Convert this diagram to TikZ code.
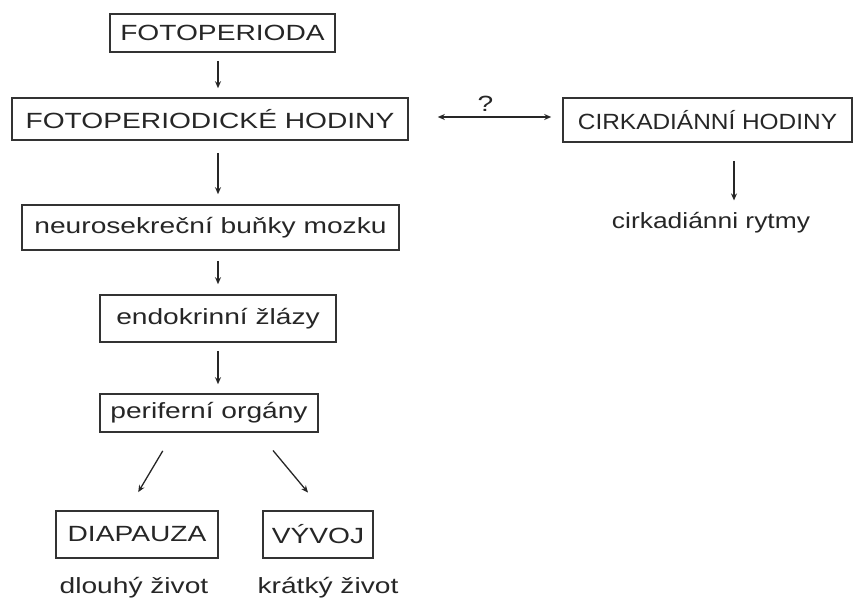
\documentclass[tikz,border=0pt]{standalone}
\usepackage{fontspec}
\setmainfont{Liberation Sans}[FakeStretch=1.28]
\newfontfamily\narrowfont{Liberation Sans}[FakeStretch=1.11]
\newfontfamily\midfont{Liberation Sans}[FakeStretch=1.2]
\usetikzlibrary{arrows.meta}
\begin{document}
\begin{tikzpicture}[
    x=1pt, y=-1pt,
    fbox/.style={draw=black!80, line width=1.6pt, inner sep=0pt,
                 text=black!85, font=\fontsize{22}{26}\selectfont},
    flabel/.style={inner sep=0pt, text=black!85, font=\fontsize{22}{26}\selectfont},
    farrow/.style={line width=1.3pt, black!85, -{Stealth[length=7pt,width=6pt]}}
]
    \useasboundingbox (0,0) rectangle (854,602);

    % left column
    \node[fbox, minimum width=225pt, minimum height=38pt] (foto)  at (222.5,33)  {FOTOPERIODA};
    \node[fbox, minimum width=396pt, minimum height=42pt] (fhod)  at (210,119)   {FOTOPERIODICKÉ HODINY};
    \node[fbox, minimum width=377pt, minimum height=45pt] (neuro) at (210.5,227.5) {neurosekreční buňky mozku};
    \node[fbox, minimum width=236pt, minimum height=47pt] (endo)  at (218,318.5) {endokrinní žlázy};
    \node[fbox, minimum width=218pt, minimum height=38pt] (peri)  at (209,413)   {periferní orgány};
    \node[fbox, minimum width=162pt, minimum height=47pt] (diap)  at (137,534.5) {DIAPAUZA};
    \node[fbox, minimum width=110pt, minimum height=47pt] (vyvoj) at (318,534.5) {VÝVOJ};
    \node[flabel] (dlouhy) at (134,588) {dlouhý život};
    \node[flabel] (kratky) at (328,588) {krátký život};

    % right column
    \node[fbox, minimum width=289pt, minimum height=44pt,
          font=\fontsize{22}{26}\narrowfont] (cirk) at (707.5,120) {CIRKADIÁNNÍ HODINY};
    \node[flabel, font=\fontsize{22}{26}\midfont] (rytmy) at (711,223) {cirkadiánni rytmy};

    \coordinate (spine) at (218,0);
    \coordinate (cline) at (734,0);

    \draw[farrow, shorten <=8pt, shorten >=9pt] (foto.south -| spine) -- (fhod.north -| spine);
    \draw[farrow, shorten <=12pt, shorten >=10pt] (fhod.south -| spine) -- (neuro.north -| spine);
    \draw[farrow, shorten <=10pt, shorten >=10pt] (neuro.south -| spine) -- (endo.north -| spine);
    \draw[farrow, shorten <=8pt, shorten >=9pt] (endo.south -| spine) -- (peri.north -| spine);
    \draw[farrow, shorten <=21pt, shorten >=21pt] ([xshift=-35.5pt]peri.south) -- ([xshift=-9.5pt]diap.north);
    \draw[farrow, shorten <=23pt, shorten >=23pt] ([xshift=49.3pt]peri.south) -- ([xshift=4.7pt]vyvoj.north);
    \draw[farrow, shorten <=18pt, shorten >=12pt] (cirk.south -| cline) -- (rytmy.north -| cline);

    \draw[farrow, {Stealth[length=7pt,width=6pt]}-{Stealth[length=7pt,width=6pt]},
          shorten <=29pt, shorten >=11pt]
        ([yshift=2pt]fhod.east) -- ([yshift=2pt]fhod.east -| cirk.west)
        node[flabel, midway, above=5pt] (quest) {?};
\end{tikzpicture}
\end{document}
